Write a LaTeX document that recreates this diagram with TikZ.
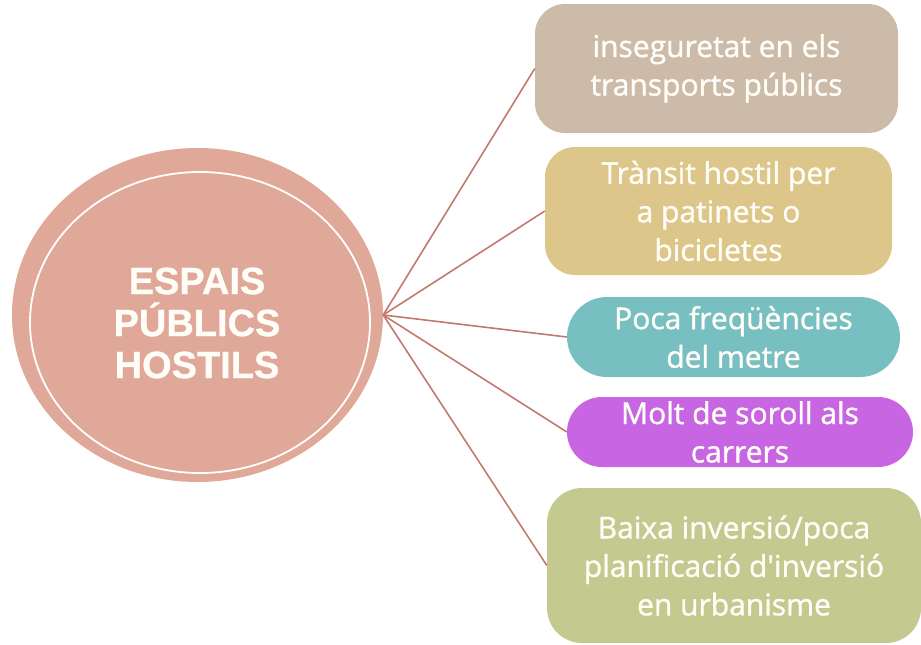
\documentclass[tikz,border=0pt]{standalone}
\usepackage{fontspec}
\setmainfont{Open Sans}
\newfontfamily\boxfont{Open Sans}[FakeBold=1.2]
\newfontfamily\titlefont{Liberation Sans}[BoldFeatures={FakeBold=0.8}]
\usetikzlibrary{shapes.geometric}
\definecolor{circfill}{HTML}{E0A898}
\definecolor{linkcol}{HTML}{C27A70}
\definecolor{boxA}{HTML}{CBBBA8}
\definecolor{boxB}{HTML}{DCC68A}
\definecolor{boxC}{HTML}{78BFC2}
\definecolor{boxD}{HTML}{C765E3}
\definecolor{boxE}{HTML}{C3C98F}
\definecolor{txt}{HTML}{FFFDF8}
\begin{document}
\begin{tikzpicture}[x=1pt,y=-1pt,
  box/.style={draw=none, text=txt, align=center, inner sep=0pt,
    font=\boxfont\fontsize{30}{38.5}\selectfont},
  link/.style={draw=linkcol, line width=1.6pt}]
\useasboundingbox (0,0) rectangle (921,645);
% central circle
\node[ellipse, fill=circfill, draw=none, minimum width=371pt, minimum height=334pt, inner sep=0pt] (c) at (197.5,315) {};
\draw[white, line width=1.8pt] (200,322.5) ellipse [x radius=170pt, y radius=150.5pt];
\node[text=txt, align=center, font=\titlefont\bfseries\fontsize{38}{42}\selectfont] (t) at (197,323) {ESPAIS\\PÚBLICS\\HOSTILS};
% boxes
\node[box, fill=boxA, rounded corners=30pt, minimum width=363pt, minimum height=129pt] (b1) at (716.5,68.5) {inseguretat en els\\transports públics};
\node[box, fill=boxB, rounded corners=30pt, minimum width=347pt, minimum height=128pt] (b2) at (718.5,211) {Trànsit hostil per\\a patinets o\\bicicletes};
\node[box, fill=boxC, rounded corners=40pt, minimum width=333pt, minimum height=80pt] (b3) at (733.5,337) {Poca freqüències\\del metre};
\node[box, fill=boxD, rounded corners=35pt, minimum width=346pt, minimum height=70pt] (b4) at (740,432) {Molt de soroll als\\carrers};
\node[box, fill=boxE, rounded corners=35pt, minimum width=374pt, minimum height=155pt] (b5) at (734,565.5) {Baixa inversió/poca\\planificació d\textquotesingle inversió\\en urbanisme};
% connectors
\foreach \b in {b1,b2,b3,b4,b5} {\draw[link] (c.east) -- (\b.west);}
\end{tikzpicture}
\end{document}
